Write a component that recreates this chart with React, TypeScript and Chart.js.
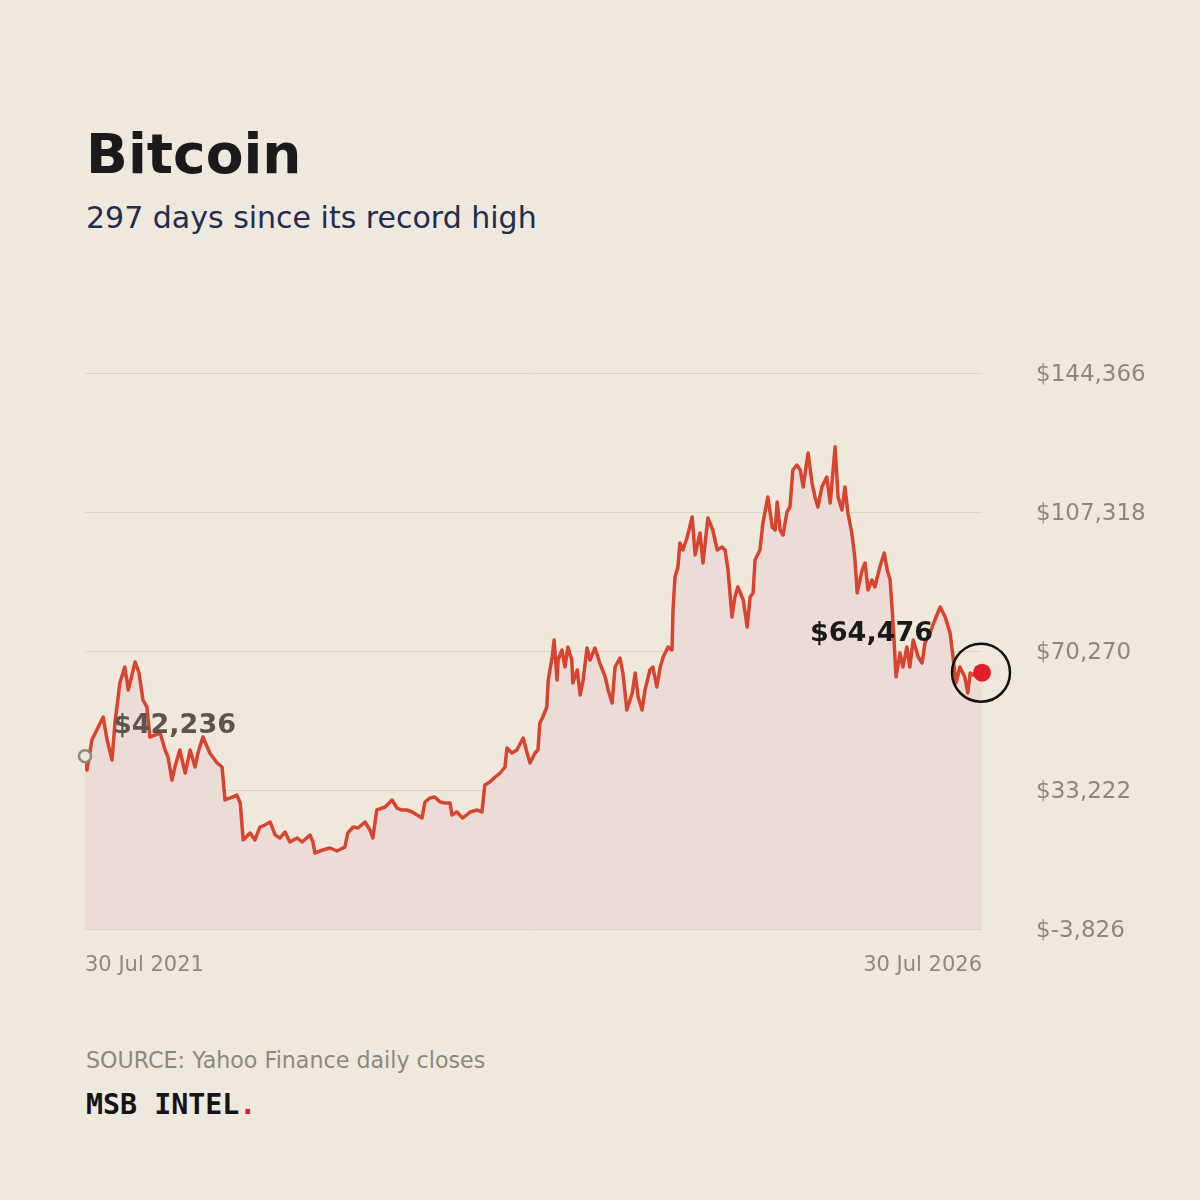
import { useEffect, useRef } from "react";
import { Chart, registerables } from "chart.js";

Chart.register(...registerables);

// Days counted from 30 Jul 2021, with the daily close read at each of them (USD).
const DAYS_SINCE_START = [
  0, 4, 14, 24, 37, 45, 55, 61, 71, 81,
  88, 102, 110, 118, 126, 132, 153, 163, 169, 177,
  183, 193, 204, 214, 224, 230, 240, 254, 269, 279,
  285, 301, 309, 316, 322, 336, 346, 356, 366, 377,
  387, 397, 407, 417, 432, 442, 458, 464, 468, 484,
  499, 513, 529, 535, 546, 556, 570, 580, 586, 594,
  611, 625, 635, 645, 655, 666, 676, 686, 692, 702,
  712, 723, 733, 743, 747, 757, 769, 784, 798, 808,
  814, 824, 835, 845, 855, 859, 869, 879, 892, 900,
  906, 916, 922, 926, 932, 940, 943, 951, 955, 961,
  963, 971, 977, 983, 991, 993, 1002, 1008, 1014, 1022,
  1028, 1038, 1048, 1059, 1065, 1073, 1079, 1089, 1095, 1103,
  1114, 1120, 1126, 1134, 1140, 1150, 1156, 1164, 1171, 1177,
  1187, 1195, 1197, 1201, 1207, 1211, 1217, 1226, 1236, 1242,
  1252, 1258, 1268, 1278, 1287, 1297, 1303, 1309, 1317, 1323,
  1329, 1340, 1348, 1354, 1360, 1364, 1374, 1380, 1390, 1399,
  1405, 1409, 1415, 1421, 1429, 1435, 1441, 1449, 1456, 1462,
  1472, 1480, 1486, 1492, 1500, 1510, 1517, 1527, 1533, 1541,
  1547, 1553, 1561, 1567, 1572, 1582, 1588, 1594, 1602, 1608,
  1618, 1627, 1633, 1639, 1645, 1651, 1659, 1665, 1673, 1679,
  1686, 1696, 1704, 1710, 1720, 1730, 1741, 1751, 1761, 1767,
  1773, 1781, 1791, 1797, 1802, 1808, 1826,
];

const CLOSE_PRICES = [
  42236, 38550, 46550, 49210, 52680, 46550, 41220, 51080, 61740, 66000,
  59880, 67340, 64410, 57210, 55340, 47350, 48410, 43880, 42020, 35890,
  39350, 43880, 37750, 43880, 39350, 43080, 47350, 43080, 40420, 39350,
  30560, 31360, 31890, 29760, 19900, 21760, 19900, 23360, 23890, 24690,
  21230, 20430, 22030, 19360, 20430, 19360, 21230, 19360, 16430, 17230,
  17760, 16960, 18030, 21760, 23360, 23090, 24690, 22560, 20430, 27890,
  28690, 30560, 28420, 27890, 27890, 27360, 26560, 25760, 30020, 31090,
  31360, 30020, 29760, 29760, 26560, 27360, 25760, 27360, 27890, 27360,
  34550, 35350, 36690, 37750, 39350, 44420, 43080, 43880, 47080, 43080,
  40420, 43080, 43880, 51080, 52680, 55340, 62540, 68670, 73200, 62540,
  67870, 70540, 66000, 71340, 67870, 61740, 65210, 58540, 62540, 71070,
  67870, 71070, 67070, 63340, 59880, 56410, 66000, 68400, 64410, 54540,
  59080, 64410, 58010, 54540, 59880, 65210, 66000, 60670, 66000, 68670,
  71340, 70540, 81200, 89990, 92660, 99060, 97190, 100650, 105980, 95860,
  101720, 93720, 105720, 102520, 97190, 97990, 97190, 91860, 79330, 84660,
  87330, 83860, 76670, 84660, 85730, 94520, 97190, 104390, 111320, 103320,
  102520, 109980, 102520, 101190, 107320, 108650, 118510, 119840, 118510, 113980,
  123040, 115050, 111320, 108650, 113980, 116650, 109720, 124700, 111320, 107850,
  113980, 107050, 101720, 95320, 85730, 91860, 93720, 86530, 89190, 87330,
  92660, 96390, 91860, 89190, 77730, 63340, 69740, 66000, 71340, 66000,
  73200, 68670, 67070, 72400, 75070, 78530, 82000, 79330, 75070, 68670,
  61740, 66000, 63340, 59080, 64410, 63870, 64476,
];

const Y_TICKS = [-3826, 33222, 70270, 107318, 144366];
const X_TICK_DAYS = [0, 1826];
const X_TICK_LABELS = ["30 Jul 2021", "30 Jul 2026"];

const BG = "#efe8dc";
const LINE = "#d8442e";
const FILL = "#ecdcd7";
const GRID = "#dcd4c6";
const MUTED = "#8e887c";
const FONT = "'DejaVu Sans', sans-serif";

const usd = (v: number) => "$" + Math.round(v).toLocaleString("en-US");

const markerPlugin = {
  id: "priceMarkers",
  afterDatasetsDraw(chart: any) {
    const { ctx } = chart;
    const xs = chart.scales.x;
    const ys = chart.scales.y;
    const n = CLOSE_PRICES.length;
    const sx = xs.getPixelForValue(DAYS_SINCE_START[0]);
    const sy = ys.getPixelForValue(CLOSE_PRICES[0]);
    const ex = xs.getPixelForValue(DAYS_SINCE_START[n - 1]);
    const ey = ys.getPixelForValue(CLOSE_PRICES[n - 1]);

    ctx.save();
    // opening close: hollow grey ring
    ctx.beginPath();
    ctx.arc(sx, sy, 6, 0, Math.PI * 2);
    ctx.fillStyle = BG;
    ctx.fill();
    ctx.lineWidth = 2.5;
    ctx.strokeStyle = "#8c877d";
    ctx.stroke();

    // latest close: red dot inside a black ring
    ctx.beginPath();
    ctx.arc(ex, ey, 9, 0, Math.PI * 2);
    ctx.fillStyle = "#e21d2c";
    ctx.fill();
    ctx.beginPath();
    ctx.arc(ex - 1, ey, 29, 0, Math.PI * 2);
    ctx.lineWidth = 2.5;
    ctx.strokeStyle = "#111111";
    ctx.stroke();

    ctx.font = `bold 27px ${FONT}`;
    ctx.textBaseline = "middle";
    ctx.fillStyle = "#5a554d";
    ctx.textAlign = "left";
    ctx.fillText(usd(CLOSE_PRICES[0]), sx + 28, sy - 30);
    ctx.fillStyle = "#1a1a1a";
    ctx.textAlign = "right";
    ctx.fillText(usd(CLOSE_PRICES[n - 1]), ex - 49, ey - 39);
    ctx.restore();
  },
};

function PriceChart() {
  const canvasRef = useRef<HTMLCanvasElement | null>(null);

  useEffect(() => {
    if (!canvasRef.current) return;
    const points = DAYS_SINCE_START.map((d, i) => ({ x: d, y: CLOSE_PRICES[i] }));
    const chart = new Chart(canvasRef.current, {
      type: "line",
      data: {
        datasets: [
          {
            data: points,
            borderColor: LINE,
            borderWidth: 3.5,
            backgroundColor: FILL,
            fill: "start",
            pointRadius: 0,
            tension: 0,
            borderJoinStyle: "round",
          },
        ],
      },
      options: {
        animation: false,
        responsive: true,
        maintainAspectRatio: false,
        layout: { padding: { left: 85, top: 73, right: 0, bottom: 0 } },
        plugins: { legend: { display: false }, tooltip: { enabled: false } },
        scales: {
          x: {
            type: "linear",
            min: X_TICK_DAYS[0],
            max: X_TICK_DAYS[1],
            afterBuildTicks: (s: any) => {
              s.ticks = X_TICK_DAYS.map((v) => ({ value: v }));
            },
            afterFit: (s: any) => {
              s.height = 71;
            },
            grid: { display: false, drawTicks: false },
            border: { display: false },
            ticks: {
              align: "inner",
              autoSkip: false,
              maxRotation: 0,
              padding: 24,
              color: MUTED,
              font: { family: FONT, size: 21 },
              callback: (_v: any, i: number) => X_TICK_LABELS[i],
            },
          },
          y: {
            position: "right",
            min: Y_TICKS[0],
            max: Y_TICKS[Y_TICKS.length - 1],
            afterBuildTicks: (s: any) => {
              s.ticks = Y_TICKS.map((v) => ({ value: v }));
            },
            afterFit: (s: any) => {
              s.width = 218;
            },
            grid: { color: GRID, lineWidth: 1, drawTicks: false },
            border: { display: false },
            ticks: {
              padding: 54,
              labelOffset: 2,
              color: MUTED,
              font: { family: FONT, size: 23 },
              callback: (v: any) => usd(Number(v)),
            },
          },
        },
      },
      plugins: [markerPlugin],
    });
    return () => chart.destroy();
  }, []);

  return (
    <div style={{ position: "absolute", left: 0, top: 300, width: 1200, height: 700 }}>
      <canvas ref={canvasRef} />
    </div>
  );
}

export default function App() {
  const text = { position: "absolute" as const, margin: 0, lineHeight: 1, whiteSpace: "nowrap" as const, fontFamily: FONT };
  return (
    <div style={{ position: "fixed", left: 0, top: 0, width: 1200, height: 1200, background: BG, overflow: "hidden" }}>
      <h1 style={{ ...text, left: 86, top: 127, fontSize: 55, fontWeight: 700, color: "#1a1a1a" }}>Bitcoin</h1>
      <div style={{ ...text, left: 86, top: 203, fontSize: 30, color: "#1f2d50" }}>297 days since its record high</div>
      <PriceChart />
      <div style={{ ...text, left: 86, top: 1049, fontSize: 22.2, color: MUTED }}>SOURCE: Yahoo Finance daily closes</div>
      <div style={{ ...text, left: 86, top: 1091, fontSize: 28.3, fontWeight: 700, color: "#141414", fontFamily: "'DejaVu Sans Mono', monospace" }}>
        MSB INTEL<span style={{ color: "#d81e3a" }}>.</span>
      </div>
    </div>
  );
}
